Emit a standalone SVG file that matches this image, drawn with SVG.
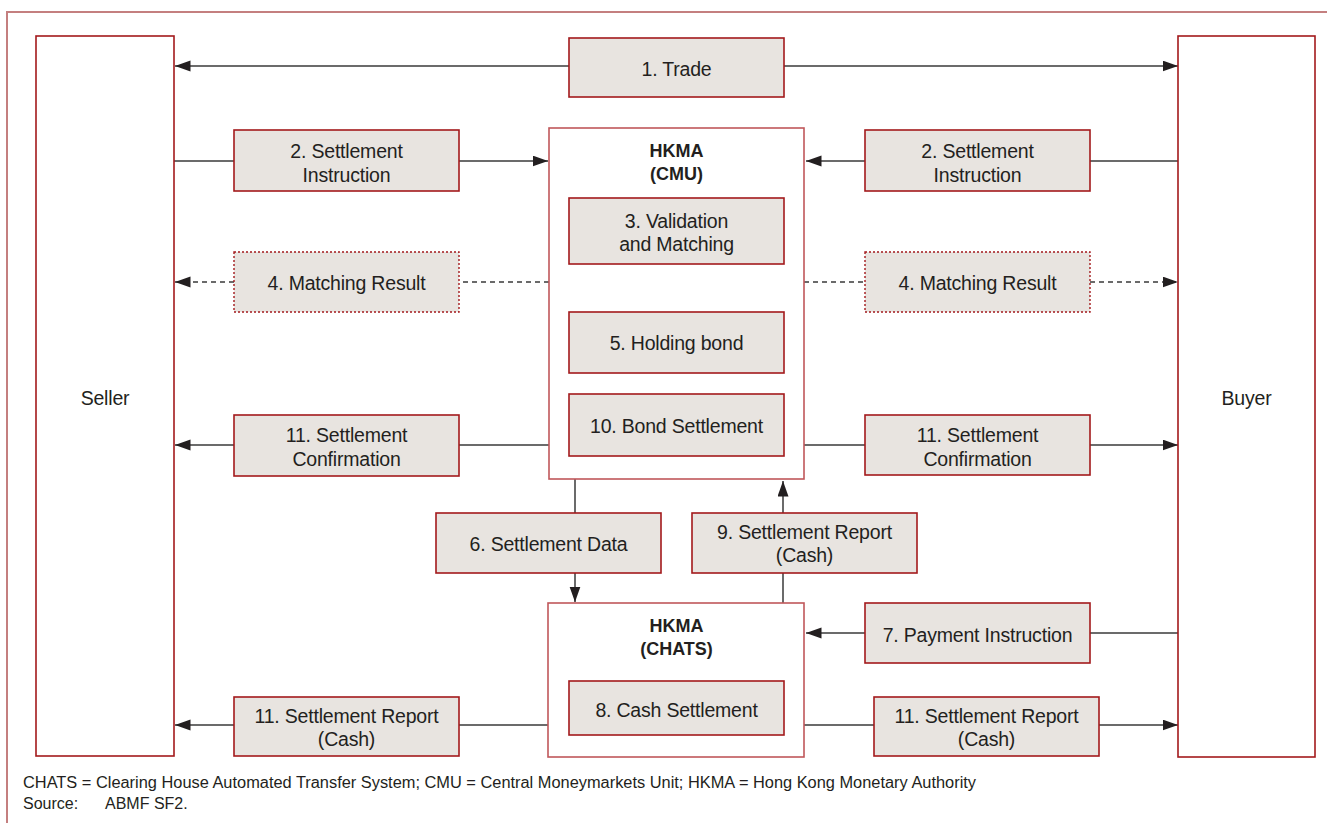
<svg xmlns="http://www.w3.org/2000/svg" width="1327" height="823" viewBox="0 0 1327 823">
<style>
.frame{fill:none;stroke:#c47f7f;stroke-width:2}
.party{fill:#fff;stroke:#a3191c;stroke-width:1.6}
.sys{fill:#fff;stroke:#c0575a;stroke-width:1.6}
.box{fill:#e8e4e0;stroke:#a3191c;stroke-width:1.6}
.dot{fill:#e8e4e0;stroke:#a3191c;stroke-width:1.4;stroke-dasharray:2 2}
.t{font-family:"Liberation Sans",Arial,sans-serif;font-size:19.5px;letter-spacing:-0.2px;fill:#231f20;text-anchor:middle}
.b{font-family:"Liberation Sans",Arial,sans-serif;font-size:18px;font-weight:bold;fill:#231f20;text-anchor:middle}
.f{font-family:"Liberation Sans",Arial,sans-serif;font-size:16px;fill:#231f20}
.c{fill:none;stroke:#3a3a3a;stroke-width:1.5}
.d{fill:none;stroke:#3a3a3a;stroke-width:1.5;stroke-dasharray:5 4}
</style>
<defs>
<marker id="ah" markerUnits="userSpaceOnUse" markerWidth="16" markerHeight="12" refX="15.5" refY="5.5" orient="auto">
<path d="M0,0 L15.5,5.5 L0,11 z" fill="#231f20"/>
</marker>
</defs>
<rect width="1327" height="823" fill="#fff"/>
<path class="frame" d="M7,830 V12 H1330"/>

<g id="connectors">
<path class="c" d="M569,66 H175" marker-end="url(#ah)"/>
<path class="c" d="M784,66 H1178" marker-end="url(#ah)"/>
<path class="c" d="M174,161 H234"/>
<path class="c" d="M459,161 H548" marker-end="url(#ah)"/>
<path class="c" d="M1178,161 H1090"/>
<path class="c" d="M865,161 H806" marker-end="url(#ah)"/>
<path class="d" d="M234,282 H175" marker-end="url(#ah)"/>
<path class="d" d="M549,282 H459"/>
<path class="d" d="M804,282 H865"/>
<path class="d" d="M1090,282 H1178" marker-end="url(#ah)"/>
<path class="c" d="M549,445 H459"/>
<path class="c" d="M234,445 H175" marker-end="url(#ah)"/>
<path class="c" d="M804,445 H865"/>
<path class="c" d="M1090,445 H1178" marker-end="url(#ah)"/>
<path class="c" d="M575,479 V513"/>
<path class="c" d="M575,573 V602" marker-end="url(#ah)"/>
<path class="c" d="M783,603 V573"/>
<path class="c" d="M783,513 V481" marker-end="url(#ah)"/>
<path class="c" d="M1178,633 H1090"/>
<path class="c" d="M865,633 H806" marker-end="url(#ah)"/>
<path class="c" d="M548,725 H459"/>
<path class="c" d="M234,725 H175" marker-end="url(#ah)"/>
<path class="c" d="M804,725 H874"/>
<path class="c" d="M1099,725 H1178" marker-end="url(#ah)"/>
</g>

<g id="seller">
<rect class="party" x="36" y="36" width="138" height="720"/>
<text class="t" x="105" y="405">Seller</text>
</g>
<g id="buyer">
<rect class="party" x="1178" y="36" width="137" height="721"/>
<text class="t" x="1246.5" y="405">Buyer</text>
</g>

<g id="trade">
<rect class="box" x="569" y="38" width="215" height="59"/>
<text class="t" x="676.5" y="76">1. Trade</text>
</g>

<g id="instr-left">
<rect class="box" x="234" y="130" width="225" height="61"/>
<text class="t" x="346.5" y="158">2. Settlement</text>
<text class="t" x="346.5" y="182">Instruction</text>
</g>
<g id="instr-right">
<rect class="box" x="865" y="130" width="225" height="61"/>
<text class="t" x="977.5" y="158">2. Settlement</text>
<text class="t" x="977.5" y="182">Instruction</text>
</g>

<g id="match-left">
<rect class="dot" x="234" y="252" width="225" height="60"/>
<text class="t" x="346.5" y="290">4. Matching Result</text>
</g>
<g id="match-right">
<rect class="dot" x="865" y="252" width="225" height="60"/>
<text class="t" x="977.5" y="290">4. Matching Result</text>
</g>

<g id="cmu">
<rect class="sys" x="549" y="128" width="255" height="351"/>
<text class="b" x="676.5" y="157">HKMA</text>
<text class="b" x="676.5" y="180">(CMU)</text>
</g>
<g id="validation">
<rect class="box" x="569" y="198" width="215" height="66"/>
<text class="t" x="676.5" y="228">3. Validation</text>
<text class="t" x="676.5" y="251">and Matching</text>
</g>
<g id="holding">
<rect class="box" x="569" y="312" width="215" height="61"/>
<text class="t" x="676.5" y="350">5. Holding bond</text>
</g>
<g id="bond-settlement">
<rect class="box" x="569" y="394" width="215" height="62"/>
<text class="t" x="676.5" y="433">10. Bond Settlement</text>
</g>

<g id="confirm-left">
<rect class="box" x="234" y="415" width="225" height="61"/>
<text class="t" x="346.5" y="442">11. Settlement</text>
<text class="t" x="346.5" y="466">Confirmation</text>
</g>
<g id="confirm-right">
<rect class="box" x="865" y="415" width="225" height="60"/>
<text class="t" x="977.5" y="442">11. Settlement</text>
<text class="t" x="977.5" y="466">Confirmation</text>
</g>

<g id="settlement-data">
<rect class="box" x="436" y="513" width="225" height="60"/>
<text class="t" x="548.5" y="551">6. Settlement Data</text>
</g>
<g id="report-cash-9">
<rect class="box" x="692" y="513" width="225" height="60"/>
<text class="t" x="804.5" y="539">9. Settlement Report</text>
<text class="t" x="804.5" y="562">(Cash)</text>
</g>

<g id="chats">
<rect class="sys" x="548" y="603" width="256" height="154"/>
<text class="b" x="676.5" y="632">HKMA</text>
<text class="b" x="676.5" y="655">(CHATS)</text>
</g>
<g id="cash-settlement">
<rect class="box" x="569" y="681" width="215" height="54"/>
<text class="t" x="676.5" y="717">8. Cash Settlement</text>
</g>
<g id="payment">
<rect class="box" x="865" y="603" width="225" height="60"/>
<text class="t" x="977.5" y="642">7. Payment Instruction</text>
</g>

<g id="report-left">
<rect class="box" x="234" y="697" width="225" height="59"/>
<text class="t" x="346.5" y="723">11. Settlement Report</text>
<text class="t" x="346.5" y="746">(Cash)</text>
</g>
<g id="report-right">
<rect class="box" x="874" y="697" width="225" height="59"/>
<text class="t" x="986.5" y="723">11. Settlement Report</text>
<text class="t" x="986.5" y="746">(Cash)</text>
</g>

<g id="footer">
<text class="f" x="23" y="788" textLength="953" lengthAdjust="spacingAndGlyphs">CHATS = Clearing House Automated Transfer System; CMU = Central Moneymarkets Unit; HKMA = Hong Kong Monetary Authority</text>
<text class="f" x="23" y="809">Source:</text>
<text class="f" x="105" y="809">ABMF SF2.</text>
</g>
</svg>
